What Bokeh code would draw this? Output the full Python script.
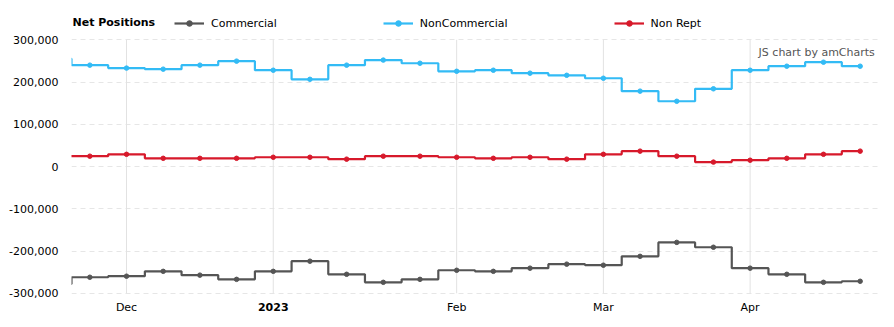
import datetime as dt
from bokeh.plotting import figure
from bokeh.models import (Legend, LegendItem, FixedTicker, NumeralTickFormatter,
                          Range1d, Label, ColumnDataSource)
from bokeh.core.properties import value
from bokeh.embed import file_html
from bokeh.resources import INLINE

# weekly report dates (first entry is the week before the visible window)
dates = ["2022-11-22", "2022-11-29", "2022-12-06", "2022-12-13", "2022-12-20",
         "2022-12-27", "2023-01-03", "2023-01-10", "2023-01-17", "2023-01-24",
         "2023-01-31", "2023-02-07", "2023-02-14", "2023-02-21", "2023-02-28",
         "2023-03-07", "2023-03-14", "2023-03-21", "2023-03-28", "2023-04-04",
         "2023-04-11", "2023-04-18", "2023-04-25"]

commercial = [-278000, -262000, -259500, -248000, -257000, -267000, -248000,
              -224000, -255000, -274000, -267000, -245500, -248000, -240500,
              -231000, -233500, -212500, -179500, -191000, -240500, -255000,
              -274000, -271500]
noncommercial = [255000, 240000, 233000, 230500, 240000, 249500, 228000,
                 206500, 240000, 252000, 244500, 225500, 228000, 221000,
                 216000, 209000, 178500, 154500, 184000, 228000, 237500,
                 247000, 237500]
nonrept = [24500, 24500, 29000, 19500, 19500, 19500, 22000, 22000, 17500,
           24500, 24500, 22000, 19500, 22000, 17500, 29000, 36500, 24500,
           10500, 15000, 19500, 29000, 36500]

series_names = ["Commercial", "NonCommercial", "Non Rept"]
series_colors = ["#555555", "#33bbf5", "#d7192b"]
legend_title = "Net Positions"
month_labels = ["Dec", "2023", "Feb", "Mar", "Apr"]
bold_labels = ["2023"]
y_ticks = [-300000, -200000, -100000, 0, 100000, 200000, 300000]

FONT = "DejaVu Sans"

x = list(range(-1, len(dates) - 1))
parsed = [dt.date.fromisoformat(d) for d in dates]
tick_pos = []
for i in range(1, len(parsed)):
    if parsed[i].month != parsed[i - 1].month and x[i] >= 0:
        tick_pos.append(x[i])

y_min, y_max = min(y_ticks), max(y_ticks)
H = 327
PX_TOP, PX_BOT = 39.3, 292.8           # pixel rows of the top / bottom gridline
per_px = (y_max - y_min) / (PX_BOT - PX_TOP)
y_hi = y_max + PX_TOP * per_px
y_lo = y_min - (H - PX_BOT) * per_px

p = figure(width=894, height=H, output_backend="svg", toolbar_location=None,
           x_range=Range1d(-0.5, len(dates) - 1.5), y_range=Range1d(y_lo, y_hi),
           min_border_left=71, min_border_right=16, min_border_top=0,
           min_border_bottom=0)
p.outline_line_color = None
p.background_fill_color = "white"
p.border_fill_color = "white"

# vertical month gridlines, only between the outer horizontal gridlines
p.segment(x0=tick_pos, x1=tick_pos, y0=[y_min] * len(tick_pos), y1=[y_max] * len(tick_pos),
          line_color="#e2e2e2", line_width=1)

renderers = []
for vals, name, col in zip([commercial, noncommercial, nonrept], series_names, series_colors):
    ln = p.step(x, vals, mode="center", line_width=2.2, line_color=col)
    sc = p.scatter(x, vals, size=4.5, fill_color=col, line_color=col)
    renderers.append((name, [ln, sc]))

# y axis
p.yaxis.ticker = FixedTicker(ticks=y_ticks)
p.yaxis.formatter = NumeralTickFormatter(format="0,0")
p.yaxis.axis_line_color = None
p.yaxis.major_tick_line_color = None
p.yaxis.minor_tick_line_color = None
p.yaxis.major_label_text_font = FONT
p.yaxis.major_label_text_font_size = "11px"
p.yaxis.major_label_text_color = "#000000"
p.yaxis.major_label_standoff = 7

# x axis labels drawn as text (one is bold)
p.xaxis.visible = False
p.xgrid.visible = False
lab_src = ColumnDataSource(dict(
    x=tick_pos,
    y=[y_min - 14 * per_px] * len(tick_pos),
    text=month_labels,
    style=["bold" if l in bold_labels else "normal" for l in month_labels]))
p.text(x="x", y="y", text="text", source=lab_src, text_align="center",
       text_baseline="middle", text_font=value(FONT), text_font_size="11px",
       text_font_style="style", text_color="#000000")

p.ygrid.ticker = FixedTicker(ticks=y_ticks)
p.ygrid.grid_line_color = "#e6e6e6"
p.ygrid.grid_line_dash = "5 4"

p.add_layout(Label(x=len(dates) - 1.6, y=271000, text="JS chart by amCharts",
                   text_align="right", text_baseline="middle", text_font=FONT,
                   text_font_size="11px", text_color="#555555"))

p.add_layout(Label(x=-0.5, y=y_max + 17.5 * per_px, x_offset=1, text=legend_title,
                   text_align="left", text_baseline="middle", text_font=FONT,
                   text_font_size="11px", text_font_style="bold", text_color="#000000"))

legend = Legend(items=[LegendItem(label=n, renderers=r) for n, r in renderers],
                orientation="horizontal", location=(103, H - 30),
                label_text_font=FONT, label_text_font_size="11px",
                label_text_color="#000000", glyph_width=30, glyph_height=14,
                label_height=14, label_standoff=7, spacing=106, padding=1, margin=0,
                border_line_color=None, background_fill_alpha=0)
p.add_layout(legend)

open("out.html", "w").write(file_html(p, INLINE))
